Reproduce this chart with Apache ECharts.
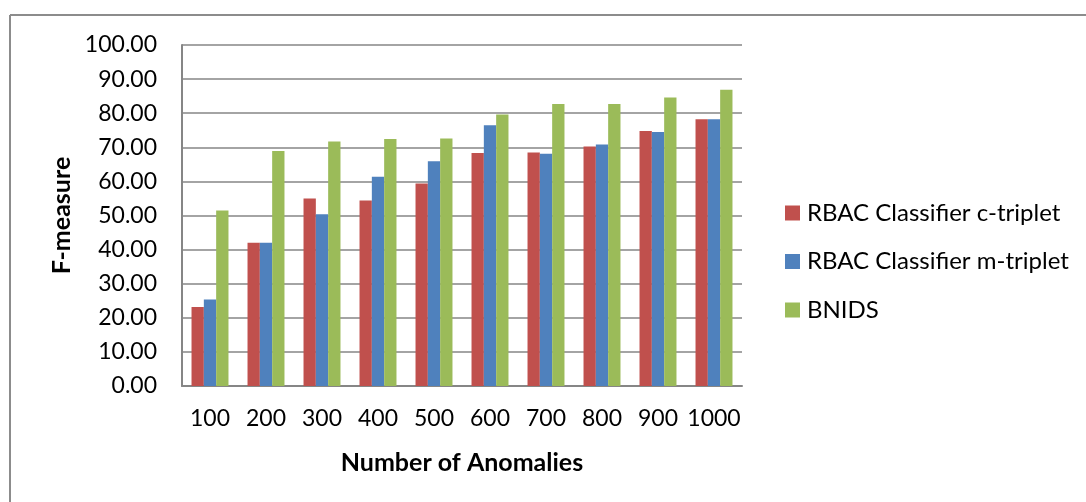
<!DOCTYPE html>
<html>
<head>
<meta charset="utf-8">
<script src="https://cdn.jsdelivr.net/npm/echarts@6/dist/echarts.min.js"></script>
<style>
  html, body { margin: 0; padding: 0; background: #ffffff; }
  #chart { width: 1086px; height: 502px; }
</style>
</head>
<body>
<div id="chart"></div>
<script>
// Number of anomalies on the x axis
const categories = ['100', '200', '300', '400', '500', '600', '700', '800', '900', '1000'];

// F-measure per method
const cTriplet = [23.2, 42.0, 55.0, 54.4, 59.4, 68.3, 68.5, 70.2, 74.8, 78.2];
const mTriplet = [25.4, 42.0, 50.4, 61.4, 65.9, 76.5, 68.1, 70.8, 74.5, 78.2];
const bnids    = [51.5, 68.9, 71.7, 72.4, 72.6, 79.6, 82.7, 82.7, 84.6, 86.9];

const seriesNames = ['RBAC Classifier c-triplet', 'RBAC Classifier m-triplet', 'BNIDS'];
const seriesColors = ['#C0504D', '#4F81BD', '#9BBB59'];
const seriesValues = [cTriplet, mTriplet, bnids];

const FONT = 'Lato';
const chart = echarts.init(document.getElementById('chart'), null, { renderer: 'canvas' });

chart.setOption({
  animation: false,
  backgroundColor: '#ffffff',
  textStyle: { fontFamily: FONT },
  grid: { left: 182, right: 344, top: 45, bottom: 116, containLabel: false },
  xAxis: {
    type: 'category',
    data: categories,
    axisLine: { lineStyle: { color: '#868686', width: 2 } },
    axisTick: { show: false },
    axisLabel: { color: '#000000', fontSize: 23, fontFamily: FONT, margin: 21, interval: 0 },
    name: 'Number of Anomalies',
    nameLocation: 'middle',
    nameGap: 64,
    nameTextStyle: { color: '#000000', fontSize: 25, fontWeight: 'bold', fontFamily: FONT }
  },
  yAxis: {
    type: 'value',
    min: 0,
    max: 100,
    interval: 10,
    axisLine: { show: true, lineStyle: { color: '#868686', width: 2 } },
    axisTick: { show: false },
    splitLine: { lineStyle: { color: '#868686', width: 1.5 } },
    axisLabel: {
      color: '#000000', fontSize: 23, fontFamily: FONT, margin: 25,
      formatter: v => v.toFixed(2)
    },
    name: 'F-measure',
    nameLocation: 'middle',
    nameGap: 108,
    nameTextStyle: { color: '#000000', fontSize: 25, fontWeight: 'bold', fontFamily: FONT }
  },
  legend: {
    orient: 'vertical',
    left: 785,
    top: 201,
    padding: 0,
    itemWidth: 15,
    itemHeight: 15,
    itemGap: 24.5,
    icon: 'rect',
    textStyle: { color: '#000000', fontSize: 24, fontFamily: FONT, lineHeight: 24, padding: [0, 0, 0, 2] },
    data: seriesNames
  },
  series: seriesNames.map((name, i) => ({
    name,
    type: 'bar',
    data: seriesValues[i],
    barGap: '0%',
    barCategoryGap: '34%',
    itemStyle: { color: seriesColors[i] }
  })),
  graphic: [
    { type: 'line', shape: { x1: 10, y1: 15, x2: 1086, y2: 15 }, style: { stroke: '#8c8c8c', lineWidth: 2 } },
    { type: 'line', shape: { x1: 10, y1: 15, x2: 10, y2: 502 }, style: { stroke: '#8c8c8c', lineWidth: 2 } }
  ]
});
</script>
</body>
</html>
